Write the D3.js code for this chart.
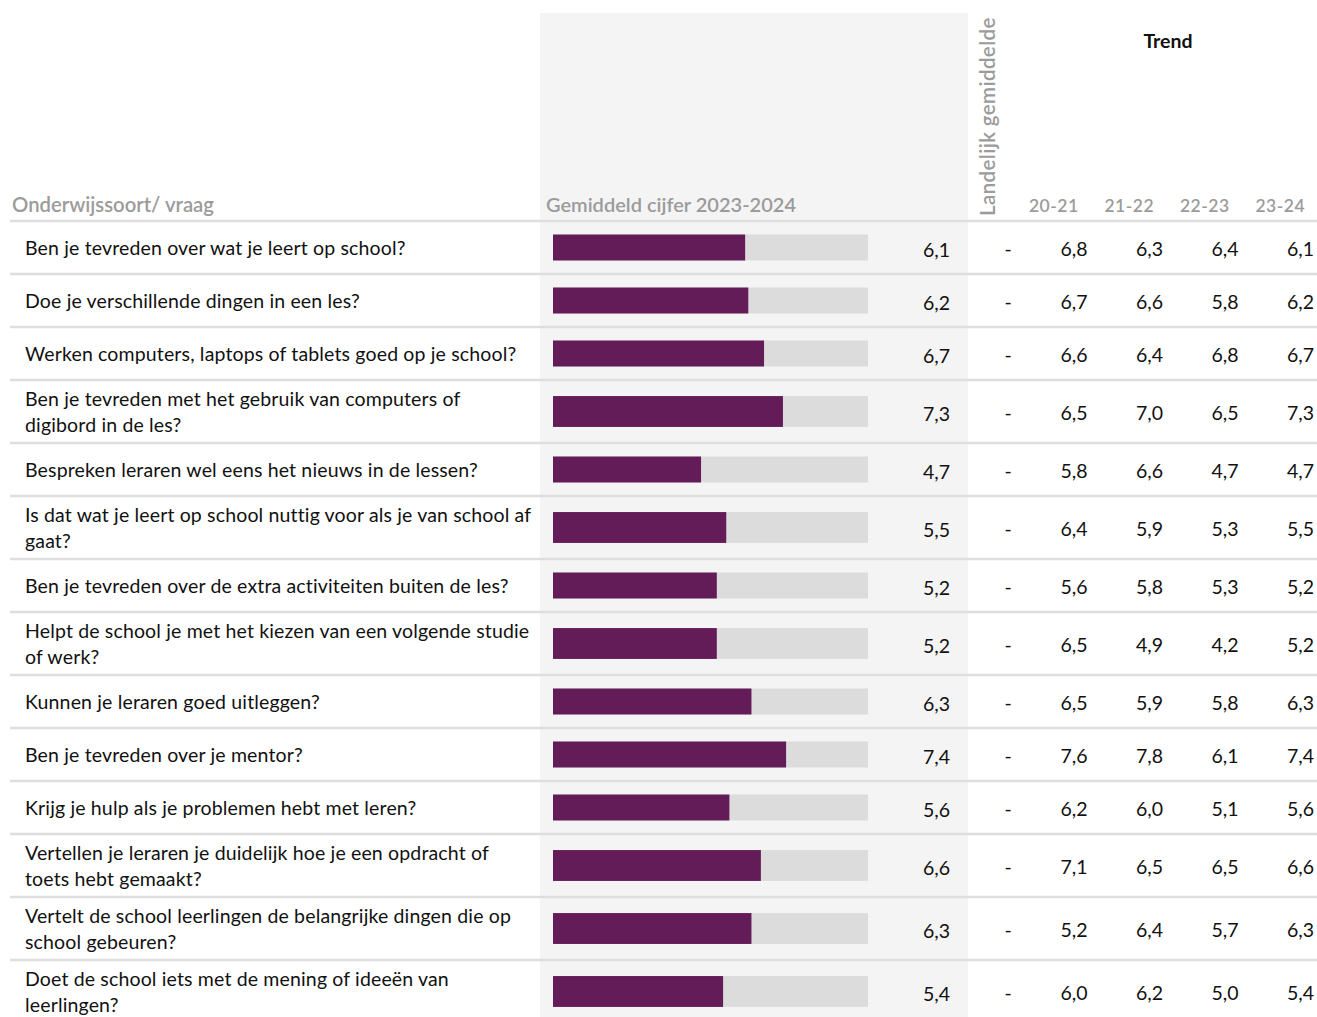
<!DOCTYPE html>
<html><head><meta charset="utf-8">
<script src="https://cdn.jsdelivr.net/npm/d3@7"></script>
<style>
html,body{margin:0;padding:0;background:#fff;}
svg{display:block;font-family:Lato,"Open Sans",sans-serif;}
</style></head><body>
<svg id="chart" width="1317" height="1017"></svg>
<script>
const questions = [
  "Ben je tevreden over wat je leert op school?",
  "Doe je verschillende dingen in een les?",
  "Werken computers, laptops of tablets goed op je school?",
  "Ben je tevreden met het gebruik van computers of\ndigibord in de les?",
  "Bespreken leraren wel eens het nieuws in de lessen?",
  "Is dat wat je leert op school nuttig voor als je van school af\ngaat?",
  "Ben je tevreden over de extra activiteiten buiten de les?",
  "Helpt de school je met het kiezen van een volgende studie\nof werk?",
  "Kunnen je leraren goed uitleggen?",
  "Ben je tevreden over je mentor?",
  "Krijg je hulp als je problemen hebt met leren?",
  "Vertellen je leraren je duidelijk hoe je een opdracht of\ntoets hebt gemaakt?",
  "Vertelt de school leerlingen de belangrijke dingen die op\nschool gebeuren?",
  "Doet de school iets met de mening of ideeën van\nleerlingen?"
];
const score2324 = [6.1, 6.2, 6.7, 7.3, 4.7, 5.5, 5.2, 5.2, 6.3, 7.4, 5.6, 6.6, 6.3, 5.4];
const landelijk = ["-", "-", "-", "-", "-", "-", "-", "-", "-", "-", "-", "-", "-", "-"];
const trendYears = ["20-21", "21-22", "22-23", "23-24"];
const trend2021 = [6.8, 6.7, 6.6, 6.5, 5.8, 6.4, 5.6, 6.5, 6.5, 7.6, 6.2, 7.1, 5.2, 6.0];
const trend2122 = [6.3, 6.6, 6.4, 7.0, 6.6, 5.9, 5.8, 4.9, 5.9, 7.8, 6.0, 6.5, 6.4, 6.2];
const trend2223 = [6.4, 5.8, 6.8, 6.5, 4.7, 5.3, 5.3, 4.2, 5.8, 6.1, 5.1, 6.5, 5.7, 5.0];
const trend2324 = [6.1, 6.2, 6.7, 7.3, 4.7, 5.5, 5.2, 5.2, 6.3, 7.4, 5.6, 6.6, 6.3, 5.4];
const scaleMax = 10;

const trendSeries = [trend2021, trend2122, trend2223, trend2324];
const fmt = v => d3.format(".1f")(v).replace(".", ",");

const svg = d3.select("#chart");
const purple = "#641c58", track = "#dcdcdc", panel = "#f4f4f4", lineC = "#dedede", headC = "#9b9b9b";
const fs = 19.5;

// row layout
const headerY = 221;
const rows = questions.map((q, i) => ({q, lines: q.split("\n"), i}));
let acc = headerY;
rows.forEach(r => { r.h = r.lines.length > 1 ? 63 : 53; r.y0 = acc; acc += r.h; });

const x = d3.scaleLinear().domain([0, scaleMax]).range([553, 868]);
const tx = d3.scaleBand().domain(trendYears).range([1017, 1319]);

// grey panel
svg.append("rect").attr("x", 540).attr("y", 13).attr("width", 428).attr("height", 1017 - 13).attr("fill", panel);

// headers
svg.append("text").attr("x", 12).attr("y", 212).attr("fill", headC).attr("font-size", 20.3).attr("font-weight", 600).text("Onderwijssoort/ vraag");
svg.append("text").attr("x", 546).attr("y", 212).attr("fill", headC).attr("font-size", 20).attr("font-weight", 600).text("Gemiddeld cijfer 2023-2024");
svg.append("text").attr("transform", "translate(995,216) rotate(-90)").attr("fill", headC).attr("font-size", 20.5).attr("font-weight", 600).attr("letter-spacing", 0.4).text("Landelijk gemiddelde");
svg.append("text").attr("x", 1168).attr("y", 48).attr("text-anchor", "middle").attr("fill", "#111").attr("font-size", 19.5).attr("font-weight", 700).text("Trend");
svg.selectAll(".yr").data(trendYears).join("text")
  .attr("x", d => tx(d) + tx.bandwidth() / 2 - 1).attr("y", 212).attr("text-anchor", "middle")
  .attr("fill", headC).attr("font-size", 17.5).attr("font-weight", 600).attr("letter-spacing", 0.5).text(d => d);

// separators
svg.append("line").attr("x1", 10).attr("x2", 1317).attr("y1", headerY).attr("y2", headerY).attr("stroke", lineC).attr("stroke-width", 2.5);
svg.selectAll(".sep").data(rows).join("line")
  .attr("x1", 10).attr("x2", 1317)
  .attr("y1", d => d.y0 + d.h).attr("y2", d => d.y0 + d.h)
  .attr("stroke", lineC).attr("stroke-width", 2.5);

const g = svg.selectAll(".row").data(rows).join("g").attr("transform", d => `translate(0,${d.y0})`);

// labels
g.append("text").attr("fill", "#111").attr("font-size", fs).attr("letter-spacing", 0.15)
  .each(function(d) {
    const t = d3.select(this);
    const n = d.lines.length;
    d.lines.forEach((ln, k) => {
      t.append("tspan").attr("x", 25)
        .attr("y", d.h / 2 + (k - (n - 1) / 2) * 26)
        .attr("dominant-baseline", "central").text(ln);
    });
  });

// bars
g.append("rect").attr("x", x(0)).attr("width", x(scaleMax) - x(0))
  .attr("y", d => d.h * 0.255).attr("height", d => d.h * 0.49).attr("fill", track);
g.append("rect").attr("x", x(0)).attr("width", d => x(score2324[d.i]) - x(0))
  .attr("y", d => d.h * 0.255).attr("height", d => d.h * 0.49).attr("fill", purple);
g.append("text").attr("x", 950).attr("y", d => d.h / 2 + 2).attr("text-anchor", "end")
  .attr("dominant-baseline", "central").attr("fill", "#111").attr("font-size", fs)
  .text(d => fmt(score2324[d.i]));

// landelijk
g.append("text").attr("x", 1008).attr("y", d => d.h / 2 + 1).attr("text-anchor", "middle")
  .attr("dominant-baseline", "central").attr("fill", "#111").attr("font-size", fs)
  .text(d => landelijk[d.i]);

// trend
trendYears.forEach((yr, k) => {
  g.append("text").attr("x", tx(yr) + tx.bandwidth() - 5).attr("y", d => d.h / 2 + 1)
    .attr("text-anchor", "end").attr("dominant-baseline", "central")
    .attr("fill", "#111").attr("font-size", fs)
    .text(d => fmt(trendSeries[k][d.i]));
});
</script>
</body></html>
